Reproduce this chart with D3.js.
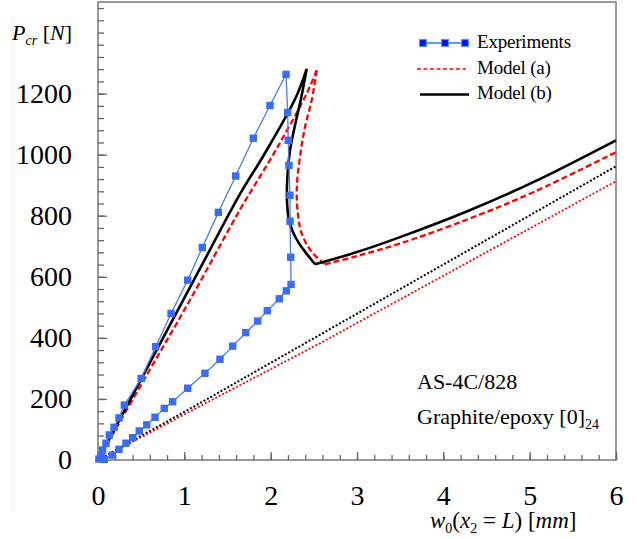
<!DOCTYPE html>
<html>
<head>
<meta charset="utf-8">
<script src="https://cdn.jsdelivr.net/npm/d3@7/dist/d3.min.js"></script>
<style>
  body { margin: 0; background: #fff; }
  svg { display: block; }
  svg text { font-family: "Liberation Serif", "Times New Roman", serif; fill: #000; }
</style>
</head>
<body>
<div id="chart"></div>
<script>
// tick values
var xTicks = [0, 1, 2, 3, 4, 5, 6];
var yTicks = [0, 200, 400, 600, 800, 1000, 1200];
var xMinor = d3.range(0, 6.001, 0.2);
var yMinor = d3.range(0, 1481, 40);

// experiments (loading branch, drop, unloading branch)
var experiments = [
    [0.01, 3], [0.035, 16], [0.054, 33], [0.093, 55], [0.131, 82], [0.185, 107], [0.243, 138], [0.305, 180],
    [0.50, 267], [0.668, 371], [0.846, 480], [1.039, 589], [1.208, 696], [1.394, 811], [1.595, 930],
    [1.799, 1054], [1.992, 1161], [2.178, 1263],
    [2.197, 1138], [2.204, 1047], [2.212, 965], [2.224, 867], [2.224, 782], [2.232, 664], [2.236, 575],
    [2.181, 554], [2.100, 528], [1.961, 489], [1.850, 455], [1.711, 417], [1.560, 373], [1.413, 330],
    [1.239, 284], [1.039, 235], [0.865, 191], [0.768, 169], [0.660, 140], [0.564, 115], [0.478, 95],
    [0.402, 73], [0.324, 55], [0.243, 35], [0.166, 16], [0.073, 2]
];

// model (a) - red dashed
var modelAUp = [[0, 0], [0.564, 278], [1.066, 524], [1.645, 820], [2.06, 1015], [2.417, 1200], [2.533, 1276]];
var modelABack = [[2.533, 1276], [2.475, 1178], [2.398, 1091], [2.340, 993], [2.302, 884], [2.320, 796],
    [2.36, 741], [2.475, 682], [2.629, 641]];
var modelAPost = [[2.629, 641], [3.0, 668], [3.498, 709], [4.271, 787], [5.042, 877], [6, 1008]];
var modelADotted = [[0, 0], [1.28, 191], [2.57, 382], [6, 913]];

// model (b) - black solid
var modelBUp = [[0, 0], [0.525, 278], [1.193, 633], [1.649, 873], [1.93, 1003], [2.294, 1189], [2.417, 1281]];
var modelBBack = [[2.417, 1281], [2.357, 1191], [2.282, 1096], [2.224, 1014], [2.195, 933], [2.189, 851],
    [2.212, 785], [2.259, 746], [2.328, 710], [2.421, 674], [2.514, 641]];
var modelBPost = [[2.514, 641], [3.0, 681], [3.498, 730], [4.271, 814], [5.042, 910], [6, 1047]];
var modelBDotted = [[0, 0], [1.28, 202], [2.57, 410], [6, 962]];

var legendLabels = ['Experiments', 'Model (a)', 'Model (b)'];

var W = 637, H = 539;
var svg = d3.select('#chart').append('svg')
    .attr('width', W)
    .attr('height', H);

var x = d3.scaleLinear().domain([0, 6]).range([98, 616]);
var y = d3.scaleLinear().domain([0, 1500]).range([460, 2]);

// faint border of the original figure
svg.append('line')
    .attr('x1', 12.5).attr('x2', 12.5)
    .attr('y1', 15).attr('y2', 512)
    .attr('stroke', '#f2f2f2');

// frame
svg.append('rect')
    .attr('x', x(0)).attr('y', y(1500))
    .attr('width', x(6) - x(0)).attr('height', y(0) - y(1500))
    .attr('fill', 'none')
    .attr('stroke', '#777')
    .attr('stroke-width', 1.5);

// minor ticks
svg.append('g')
    .attr('transform', 'translate(0,' + y(0) + ')')
    .call(d3.axisBottom(x).tickValues(xMinor).tickSize(-5).tickFormat(''))
    .call(function(g) { g.select('.domain').remove(); })
    .selectAll('line').attr('stroke', '#666').attr('stroke-width', 1.3);

svg.append('g')
    .attr('transform', 'translate(' + x(0) + ',0)')
    .call(d3.axisLeft(y).tickValues(yMinor).tickSize(-6).tickFormat(''))
    .call(function(g) { g.select('.domain').remove(); })
    .selectAll('line').attr('stroke', '#666').attr('stroke-width', 1.3);

// major ticks with labels
var xAxis = svg.append('g')
    .attr('transform', 'translate(0,' + y(0) + ')')
    .call(d3.axisBottom(x).tickValues(xTicks).tickSize(-8).tickPadding(25).tickFormat(d3.format('d')));
xAxis.select('.domain').remove();
xAxis.selectAll('line').attr('stroke', '#666').attr('stroke-width', 1.3);
xAxis.selectAll('text')
    .style('font-size', '28px')
    .style('font-family', '"Liberation Serif", "Times New Roman", serif')
    .attr('dy', '0.71em');

var yAxis = svg.append('g')
    .attr('transform', 'translate(' + x(0) + ',0)')
    .call(d3.axisLeft(y).tickValues(yTicks).tickSize(-9).tickPadding(26).tickFormat(d3.format('d')));
yAxis.select('.domain').remove();
yAxis.selectAll('line').attr('stroke', '#666').attr('stroke-width', 1.3);
yAxis.selectAll('text')
    .style('font-size', '28px')
    .style('font-family', '"Liberation Serif", "Times New Roman", serif');

var line = d3.line()
    .x(function(d) { return x(d[0]); })
    .y(function(d) { return y(d[1]); });
var smooth = d3.line()
    .x(function(d) { return x(d[0]); })
    .y(function(d) { return y(d[1]); })
    .curve(d3.curveCatmullRom.alpha(0.5));

// dotted lines
svg.append('path').datum(modelBDotted)
    .attr('d', line).attr('fill', 'none')
    .attr('stroke', '#000').attr('stroke-width', 2)
    .attr('stroke-dasharray', '2,1.9');
svg.append('path').datum(modelADotted)
    .attr('d', line).attr('fill', 'none')
    .attr('stroke', '#ff0000').attr('stroke-width', 1.8)
    .attr('stroke-dasharray', '2,1.9');

// model (a)
[modelAUp, modelABack, modelAPost].forEach(function(seg) {
    svg.append('path').datum(seg)
        .attr('d', smooth).attr('fill', 'none')
        .attr('stroke', '#ff0000').attr('stroke-width', 2.3)
        .attr('stroke-dasharray', '6,3');
});

// model (b)
[modelBUp, modelBBack, modelBPost].forEach(function(seg) {
    svg.append('path').datum(seg)
        .attr('d', smooth).attr('fill', 'none')
        .attr('stroke', '#000').attr('stroke-width', 2.6)
        .attr('stroke-linejoin', 'round');
});

// experiments
svg.append('path').datum(experiments)
    .attr('d', line).attr('fill', 'none')
    .attr('stroke', '#4a7cf5').attr('stroke-width', 1.3);
svg.selectAll('rect.exp')
    .data(experiments)
    .enter()
    .append('rect')
    .attr('class', 'exp')
    .attr('x', function(d) { return x(d[0]) - 3.7; })
    .attr('y', function(d) { return y(d[1]) - 3.7; })
    .attr('width', 7.4).attr('height', 7.4)
    .attr('fill', '#3a6cf6');

// legend
var lg = svg.append('g');
lg.append('line')
    .attr('x1', 420).attr('x2', 469).attr('y1', 43).attr('y2', 43)
    .attr('stroke', '#2a7be8').attr('stroke-width', 1.5);
lg.selectAll('rect')
    .data([423, 445, 465])
    .enter()
    .append('rect')
    .attr('x', function(d) { return d - 3.5; })
    .attr('y', 39.5)
    .attr('width', 7).attr('height', 7)
    .attr('fill', '#1010e0')
    .attr('stroke', '#4a9cf8').attr('stroke-width', 1.2);
lg.append('line')
    .attr('x1', 417).attr('x2', 466).attr('y1', 69).attr('y2', 69)
    .attr('stroke', '#ff0000').attr('stroke-width', 1.3)
    .attr('stroke-dasharray', '4,2.5');
lg.append('line')
    .attr('x1', 420).attr('x2', 469).attr('y1', 94.5).attr('y2', 94.5)
    .attr('stroke', '#000').attr('stroke-width', 2.6);
lg.selectAll('text')
    .data(legendLabels)
    .enter()
    .append('text')
    .attr('x', 477)
    .attr('y', function(d, i) { return 48 + i * 25.5; })
    .attr('font-size', 19)
    .attr('letter-spacing', -0.2)
    .text(function(d) { return d; });

// material annotation
svg.append('text')
    .attr('x', 417).attr('y', 389)
    .attr('font-size', 22)
    .text('AS-4C/828');
var mat = svg.append('text')
    .attr('x', 417).attr('y', 424)
    .attr('font-size', 22);
mat.append('tspan').text('Graphite/epoxy [0]');
mat.append('tspan').attr('font-size', 14).attr('dy', 5).text('24');

// axis titles
var yt = svg.append('text')
    .attr('x', 12).attr('y', 40)
    .attr('font-size', 22);
yt.append('tspan').attr('font-style', 'italic').text('P');
yt.append('tspan').attr('font-style', 'italic').attr('font-size', 14).attr('dy', 5).text('cr');
yt.append('tspan').attr('dy', -5).text(' [');
yt.append('tspan').attr('font-style', 'italic').text('N');
yt.append('tspan').text(']');

var xt = svg.append('text')
    .attr('x', 430).attr('y', 528)
    .attr('font-size', 23);
xt.append('tspan').attr('font-style', 'italic').text('w');
xt.append('tspan').attr('font-size', 14).attr('dy', 5).text('0');
xt.append('tspan').attr('dy', -5).text('(');
xt.append('tspan').attr('font-style', 'italic').text('x');
xt.append('tspan').attr('font-size', 14).attr('dy', 5).text('2');
xt.append('tspan').attr('dy', -5).text(' = ');
xt.append('tspan').attr('font-style', 'italic').text('L');
xt.append('tspan').text(') [');
xt.append('tspan').attr('font-style', 'italic').text('mm');
xt.append('tspan').text(']');
</script>
</body>
</html>
